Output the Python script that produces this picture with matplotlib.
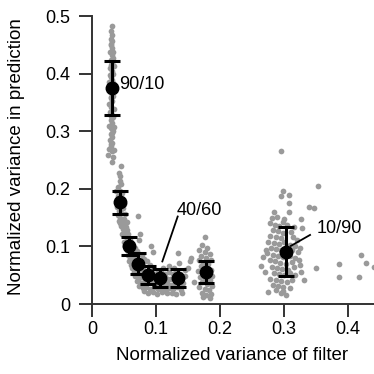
import numpy as np
import matplotlib
matplotlib.use('Agg')
import matplotlib.pyplot as plt

plt.rcParams['font.family'] = ['Liberation Sans', 'DejaVu Sans']
plt.rcParams['font.size'] = 13

GRAY = '#9a9a9a'

# individual trials (x = variance of filter, y = variance in prediction)
pts_90_10 = [
    (0.031, 0.482), (0.030, 0.474), (0.032, 0.468), (0.029, 0.461), (0.031, 0.456),
    (0.030, 0.449), (0.032, 0.444), (0.028, 0.438), (0.031, 0.433), (0.033, 0.428),
    (0.029, 0.423), (0.031, 0.418), (0.034, 0.413), (0.028, 0.409), (0.031, 0.404),
    (0.033, 0.399), (0.029, 0.394), (0.032, 0.389), (0.027, 0.385), (0.030, 0.380),
    (0.034, 0.376), (0.028, 0.371), (0.031, 0.366), (0.033, 0.361), (0.029, 0.357),
    (0.032, 0.352), (0.027, 0.348), (0.030, 0.343), (0.034, 0.338), (0.028, 0.334),
    (0.031, 0.329), (0.033, 0.324), (0.029, 0.319), (0.032, 0.314), (0.027, 0.310),
    (0.030, 0.305), (0.033, 0.300), (0.029, 0.295), (0.031, 0.290), (0.028, 0.285),
    (0.032, 0.280), (0.030, 0.275), (0.027, 0.270), (0.031, 0.265), (0.025, 0.259),
    (0.033, 0.255), (0.031, 0.247), (0.029, 0.452), (0.033, 0.437), (0.030, 0.415),
    (0.028, 0.397), (0.033, 0.383), (0.030, 0.359), (0.029, 0.326), (0.034, 0.308),
    (0.031, 0.297), (0.029, 0.278), (0.034, 0.268),
]

pts_knee = [
    (0.045, 0.239), (0.042, 0.228), (0.044, 0.222), (0.043, 0.214), (0.046, 0.208),
    (0.041, 0.203), (0.044, 0.197), (0.047, 0.192), (0.040, 0.188), (0.043, 0.183),
    (0.048, 0.180), (0.041, 0.175), (0.045, 0.170), (0.049, 0.166), (0.042, 0.162),
    (0.046, 0.158), (0.040, 0.154), (0.044, 0.150), (0.050, 0.148), (0.047, 0.144),
    (0.043, 0.140), (0.051, 0.139), (0.045, 0.135), (0.053, 0.133), (0.048, 0.130),
    (0.055, 0.128), (0.050, 0.125), (0.057, 0.121), (0.052, 0.118), (0.047, 0.122),
    (0.072, 0.153), (0.038, 0.196), (0.050, 0.173), (0.052, 0.156), (0.039, 0.168),
    (0.054, 0.142), (0.042, 0.145),
]

pts_slope = [
    (0.054, 0.114), (0.059, 0.111), (0.050, 0.108), (0.056, 0.105), (0.062, 0.103),
    (0.052, 0.100), (0.058, 0.097), (0.064, 0.095), (0.055, 0.093), (0.061, 0.090),
    (0.067, 0.089), (0.057, 0.086), (0.063, 0.084), (0.069, 0.082), (0.060, 0.080),
    (0.066, 0.078), (0.072, 0.077), (0.058, 0.075), (0.064, 0.073), (0.070, 0.071),
    (0.076, 0.070), (0.061, 0.068), (0.067, 0.066), (0.073, 0.065), (0.079, 0.064),
    (0.063, 0.062), (0.070, 0.060), (0.076, 0.059), (0.082, 0.058), (0.073, 0.111),
    (0.075, 0.121), (0.068, 0.098), (0.071, 0.092), (0.078, 0.086), (0.082, 0.079),
    (0.086, 0.074), (0.090, 0.068),
]

pts_floor = [
    (0.066, 0.056), (0.072, 0.054), (0.078, 0.052), (0.084, 0.053), (0.090, 0.055),
    (0.096, 0.052), (0.102, 0.054), (0.108, 0.056), (0.114, 0.053), (0.120, 0.055),
    (0.126, 0.052), (0.132, 0.055), (0.138, 0.053), (0.068, 0.048), (0.074, 0.045),
    (0.080, 0.047), (0.086, 0.044), (0.092, 0.046), (0.098, 0.043), (0.104, 0.045),
    (0.110, 0.042), (0.116, 0.046), (0.122, 0.043), (0.128, 0.045), (0.134, 0.042),
    (0.140, 0.046), (0.070, 0.040), (0.076, 0.037), (0.082, 0.039), (0.088, 0.036),
    (0.094, 0.038), (0.100, 0.035), (0.106, 0.037), (0.112, 0.034), (0.118, 0.036),
    (0.124, 0.033), (0.130, 0.036), (0.136, 0.034), (0.142, 0.037), (0.073, 0.031),
    (0.079, 0.028), (0.085, 0.030), (0.091, 0.027), (0.097, 0.029), (0.103, 0.026),
    (0.109, 0.028), (0.115, 0.025), (0.121, 0.028), (0.127, 0.026), (0.133, 0.029),
    (0.139, 0.025), (0.081, 0.022), (0.088, 0.020), (0.095, 0.021), (0.102, 0.018),
    (0.109, 0.021), (0.117, 0.019), (0.125, 0.020), (0.132, 0.018), (0.140, 0.020),
    (0.078, 0.063), (0.094, 0.061), (0.111, 0.063), (0.129, 0.062), (0.145, 0.060),
    (0.092, 0.100), (0.095, 0.090), (0.134, 0.088), (0.136, 0.071), (0.120, 0.066),
    (0.155, 0.080), (0.153, 0.075), (0.159, 0.039), (0.150, 0.063), (0.146, 0.048),
]

pts_02 = [
    (0.177, 0.117), (0.172, 0.103), (0.180, 0.098), (0.168, 0.093), (0.176, 0.090),
    (0.184, 0.087), (0.171, 0.083), (0.179, 0.080), (0.186, 0.076), (0.167, 0.076),
    (0.174, 0.072), (0.182, 0.069), (0.170, 0.066), (0.178, 0.063), (0.186, 0.060),
    (0.166, 0.058), (0.173, 0.055), (0.181, 0.052), (0.188, 0.049), (0.169, 0.047),
    (0.176, 0.044), (0.184, 0.041), (0.172, 0.038), (0.180, 0.035), (0.187, 0.032),
    (0.168, 0.030), (0.176, 0.027), (0.183, 0.024), (0.172, 0.020), (0.179, 0.016),
    (0.186, 0.018), (0.174, 0.012), (0.185, 0.011),
]

pts_10_90 = [
    (0.295, 0.266), (0.353, 0.205), (0.298, 0.197), (0.308, 0.190), (0.296, 0.188),
    (0.308, 0.175), (0.340, 0.169), (0.347, 0.166), (0.308, 0.160), (0.285, 0.159),
    (0.327, 0.148), (0.298, 0.143), (0.329, 0.132), (0.264, 0.066), (0.272, 0.094),
    (0.332, 0.042), (0.327, 0.056), (0.295, 0.019), (0.275, 0.021), (0.303, 0.016),
    (0.350, 0.062), (0.282, 0.150), (0.290, 0.152), (0.300, 0.147), (0.278, 0.140),
    (0.286, 0.138), (0.293, 0.135), (0.305, 0.137), (0.283, 0.128), (0.291, 0.126),
    (0.299, 0.124), (0.311, 0.125), (0.279, 0.118), (0.287, 0.116), (0.295, 0.114),
    (0.314, 0.116), (0.320, 0.112), (0.276, 0.108), (0.284, 0.106), (0.292, 0.104),
    (0.300, 0.107), (0.310, 0.103), (0.318, 0.100), (0.280, 0.097), (0.288, 0.095),
    (0.296, 0.093), (0.312, 0.094), (0.322, 0.090), (0.274, 0.088), (0.283, 0.085),
    (0.291, 0.083), (0.299, 0.081), (0.309, 0.084), (0.317, 0.080), (0.278, 0.076),
    (0.286, 0.074), (0.294, 0.072), (0.304, 0.070), (0.313, 0.073), (0.323, 0.076),
    (0.281, 0.065), (0.289, 0.063), (0.297, 0.061), (0.307, 0.060), (0.316, 0.064),
    (0.284, 0.054), (0.292, 0.052), (0.300, 0.050), (0.310, 0.054), (0.318, 0.050),
    (0.279, 0.044), (0.287, 0.042), (0.295, 0.040), (0.305, 0.038), (0.313, 0.041),
    (0.283, 0.033), (0.291, 0.031), (0.299, 0.029), (0.309, 0.028), (0.287, 0.024),
    (0.298, 0.022), (0.268, 0.082), (0.270, 0.056), (0.325, 0.067), (0.326, 0.098),
    (0.316, 0.133),
]

pts_far = [
    (0.420, 0.085), (0.428, 0.071), (0.386, 0.070), (0.386, 0.047), (0.418, 0.047),
    (0.441, 0.065),
]

# group means with error bars
mean_x = [0.031, 0.044, 0.058, 0.072, 0.087, 0.106, 0.134, 0.178, 0.303]
mean_y = [0.376, 0.177, 0.101, 0.070, 0.050, 0.045, 0.045, 0.056, 0.091]
err_lo = [0.328, 0.156, 0.085, 0.053, 0.034, 0.029, 0.030, 0.037, 0.049]
err_hi = [0.422, 0.197, 0.117, 0.088, 0.066, 0.061, 0.061, 0.074, 0.133]

fig = plt.figure(figsize=(3.74, 3.74), dpi=100)
ax = fig.add_axes([0.246, 0.187, 0.754, 0.770])

all_pts = np.array(pts_90_10 + pts_knee + pts_slope + pts_floor + pts_02 + pts_10_90 + pts_far)
ax.scatter(all_pts[:, 0], all_pts[:, 1], s=17, color=GRAY, linewidths=0, zorder=2)

my = np.array(mean_y)
yerr = [my - np.array(err_lo), np.array(err_hi) - my]
ax.errorbar(mean_x, mean_y, yerr=yerr, fmt='o', color='black', ms=9,
            elinewidth=2.2, capsize=6, capthick=2.2, zorder=3)

# labels of the mixing ratios
ax.text(0.042, 0.381, '90/10', ha='left', va='center', fontsize=13)
ax.text(0.132, 0.163, '40/60', ha='left', va='center', fontsize=13)
ax.plot([0.134, 0.110], [0.152, 0.074], color='black', lw=1.3, zorder=4)
ax.text(0.351, 0.131, '10/90', ha='left', va='center', fontsize=13)
ax.plot([0.341, 0.311], [0.120, 0.101], color='black', lw=1.3, zorder=4)

ax.set_xlim(0, 0.441)
ax.set_ylim(0, 0.5)
ax.set_xticks([0, 0.1, 0.2, 0.3, 0.4])
ax.set_xticklabels(['0', '0.1', '0.2', '0.3', '0.4'])
ax.set_yticks([0, 0.1, 0.2, 0.3, 0.4, 0.5])
ax.set_yticklabels(['0', '0.1', '0.2', '0.3', '0.4', '0.5'])

for s in ['top', 'right']:
    ax.spines[s].set_visible(False)
for s in ['left', 'bottom']:
    ax.spines[s].set_linewidth(1.4)
    ax.spines[s].set_color('#333333')
ax.tick_params(direction='out', length=9.5, width=1.4, color='#333333', labelsize=13)
ax.tick_params(axis='x', pad=3)
ax.tick_params(axis='y', pad=6)

ax.set_xlabel('Normalized variance of filter', fontsize=13.5)
ax.set_ylabel('Normalized variance in prediction', fontsize=13.5)
ax.xaxis.set_label_coords(0.497, -0.148)
ax.yaxis.set_label_coords(-0.238, 0.512)

fig.savefig('out.png', dpi=100)
